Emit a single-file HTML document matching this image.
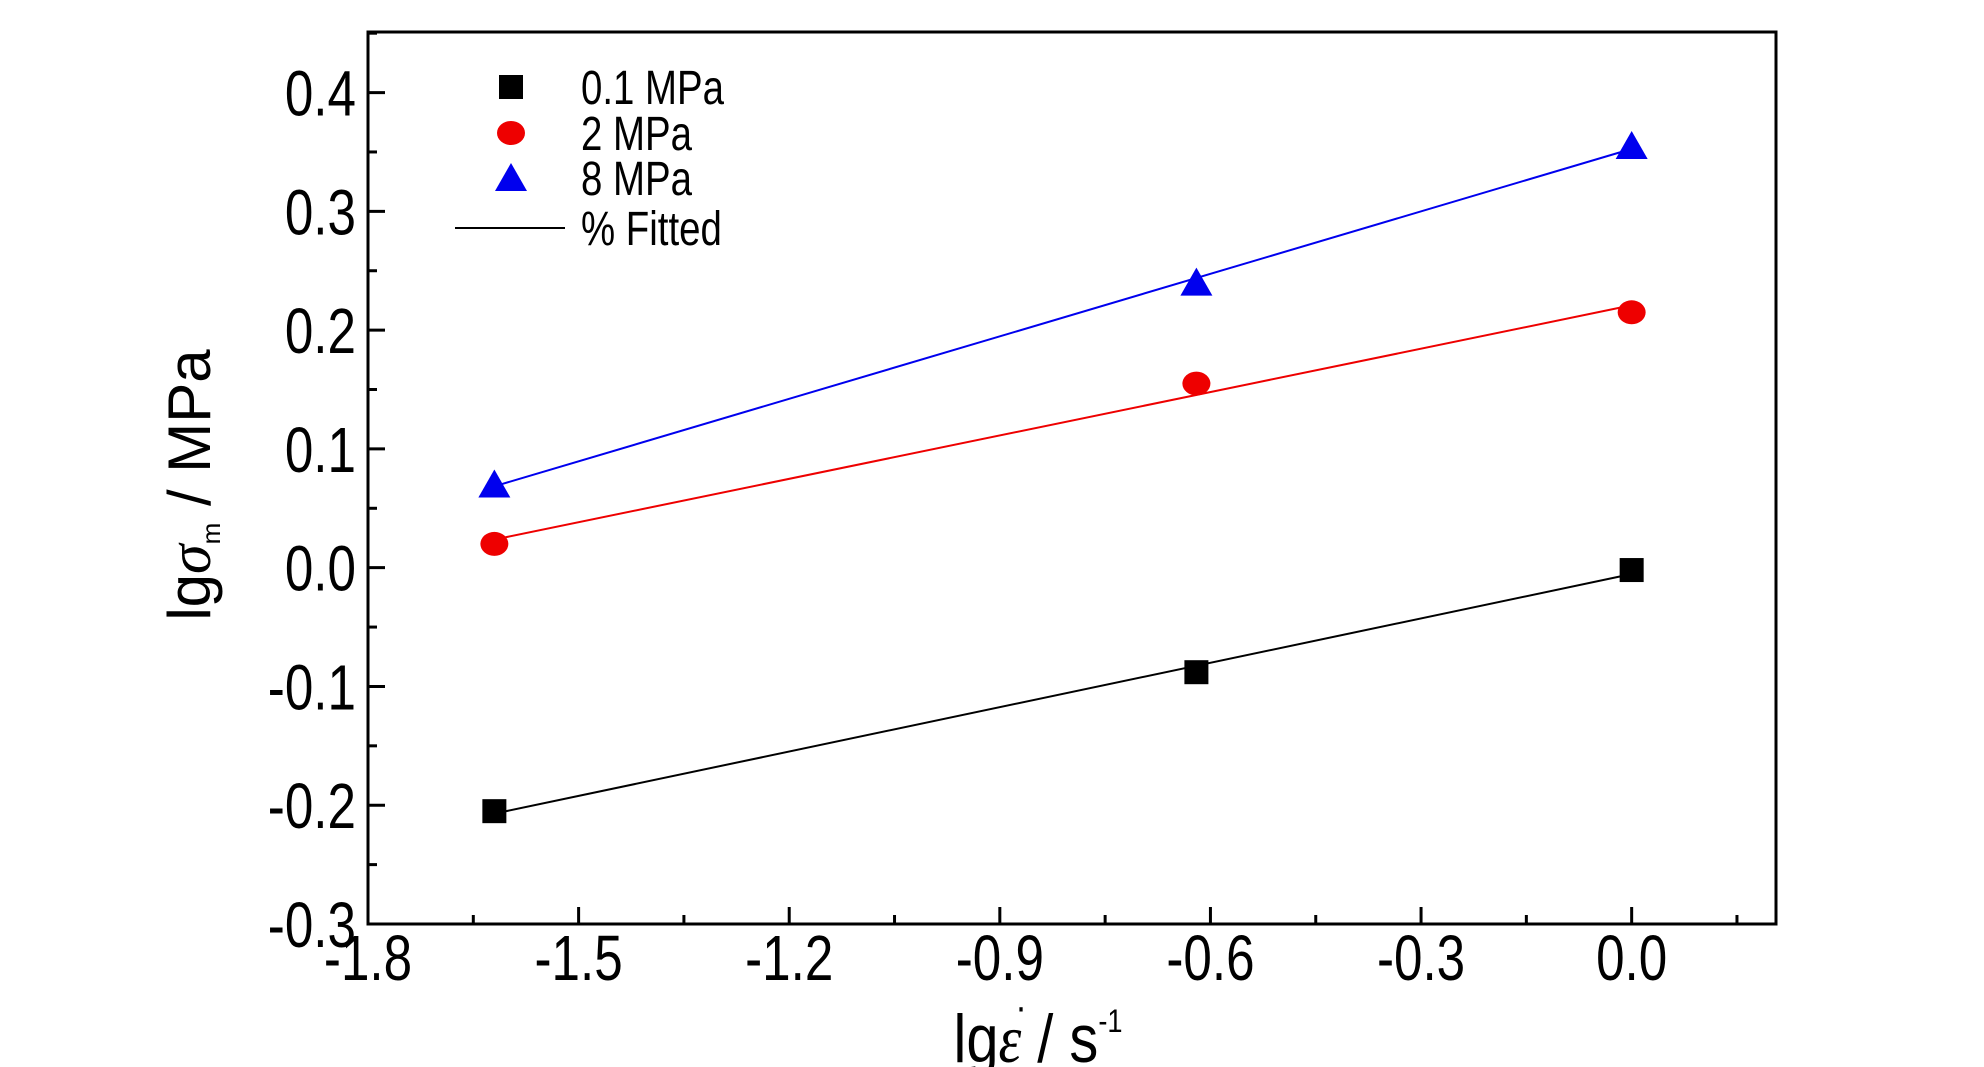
<!DOCTYPE html>
<html><head><meta charset="utf-8"><style>
html,body{margin:0;padding:0;background:#fff;}
svg{display:block;font-family:"Liberation Sans",sans-serif;}
</style></head><body>
<svg id="chart" width="1984" height="1067" viewBox="0 0 1984 1067" xmlns="http://www.w3.org/2000/svg">
<rect x="0" y="0" width="1984" height="1067" fill="#fff"/>
<g id="plot"></g>
<g id="axes"></g>
<g id="legend"></g>
<text transform="translate(210,485) rotate(-90)" text-anchor="middle" font-size="60">lg<tspan font-style="italic" font-family="Liberation Serif">σ</tspan><tspan font-size="26" dy="10">m</tspan><tspan dy="-10"> / MPa</tspan></text>
<g transform="translate(1038,1062) scale(0.85,1)"><text text-anchor="middle" font-size="68">lg<tspan font-style="italic" font-family="Liberation Serif">ε</tspan> / s<tspan font-size="32" dy="-30">-1</tspan></text><text x="-20" y="-42" font-size="40" text-anchor="middle">·</text></g>
</svg>
<script>
const xValues = [-1.62, -0.62, 0.0];
const series01 = [-0.205, -0.088, -0.002];
const series2 = [0.02, 0.155, 0.215];
const series8 = [0.07, 0.24, 0.355];
const xTicks = [-1.8, -1.5, -1.2, -0.9, -0.6, -0.3, 0.0];
const xTickLabels = ["-1.8", "-1.5", "-1.2", "-0.9", "-0.6", "-0.3", "0.0"];
const yTicks = [-0.3, -0.2, -0.1, 0.0, 0.1, 0.2, 0.3, 0.4];
const yTickLabels = ["-0.3", "-0.2", "-0.1", "0.0", "0.1", "0.2", "0.3", "0.4"];
const legendLabels = ["0.1 MPa", "2 MPa", "8 MPa", "% Fitted"];

const NS = "http://www.w3.org/2000/svg";
const L = 368, R = 1776, T = 32, B = 924;
const xMin = -1.8, xMax = 0.2056, yMin = -0.3, yMax = 0.451;
const sx = v => L + (v - xMin) / (xMax - xMin) * (R - L);
const sy = v => B - (v - yMin) / (yMax - yMin) * (B - T);
function mk(tag, attrs, parent) {
  const e = document.createElementNS(NS, tag);
  for (const k in attrs) e.setAttribute(k, attrs[k]);
  parent.appendChild(e);
  return e;
}
const plot = document.getElementById('plot');
const axes = document.getElementById('axes');
const legend = document.getElementById('legend');

const frame = mk('rect', {x: L, y: T, width: R - L, height: B - T, fill: 'none', stroke: '#000', 'stroke-width': 3}, axes);



for (let v = -1.8; v <= 0.2 + 1e-9; v += 0.15) {
  const major = Math.abs(Math.round(v / 0.3) * 0.3 - v) < 1e-6;
  const t = mk('line', {x1: sx(v), x2: sx(v), y1: B, y2: B - (major ? 17 : 9), stroke: '#000', 'stroke-width': 3}, axes);
  
  
}
xTicks.forEach((v, i) => {
  const g = mk('g', {transform: `translate(${sx(v)},980) scale(0.8,1)`}, axes);
  const tx = mk('text', {'text-anchor': 'middle', 'font-size': 64}, g);
  tx.textContent = xTickLabels[i];
  
  
});
for (let v = -0.3; v <= 0.45 + 1e-9; v += 0.05) {
  const major = Math.abs(Math.round(v / 0.1) * 0.1 - v) < 1e-6;
  const t = mk('line', {x1: L, x2: L + (major ? 17 : 9), y1: sy(v), y2: sy(v), stroke: '#000', 'stroke-width': 3}, axes);
  
  
}
yTicks.forEach((v, i) => {
  const g = mk('g', {transform: `translate(356,${sy(v) + 23}) scale(0.8,1)`}, axes);
  const tx = mk('text', {'text-anchor': 'end', 'font-size': 64}, g);
  tx.textContent = yTickLabels[i];
  
  
});

function fit(xs, ys) {
  const n = xs.length;
  const mx = xs.reduce((a, b) => a + b, 0) / n, my = ys.reduce((a, b) => a + b, 0) / n;
  let num = 0, den = 0;
  for (let i = 0; i < n; i++) { num += (xs[i] - mx) * (ys[i] - my); den += (xs[i] - mx) ** 2; }
  const k = num / den;
  return [k, my - k * mx];
}
function marker(type, x, y, color, parent) {
  let m;
  if (type === 'square') m = mk('rect', {x: x - 12, y: y - 12, width: 24, height: 24, fill: color}, parent);
  else if (type === 'circle') m = mk('ellipse', {cx: x, cy: y, rx: 14, ry: 12, fill: color}, parent);
  else m = mk('polygon', {points: `${x},${y - 15} ${x - 16},${y + 13} ${x + 16},${y + 13}`, fill: color}, parent);
  return m;
}
const seriesList = [
  {name: '0.1mpa', ys: series01, color: '#000', type: 'square'},
  {name: '2mpa', ys: series2, color: '#ee0000', type: 'circle'},
  {name: '8mpa', ys: series8, color: '#0000ee', type: 'triangle'}
];
seriesList.forEach(s => {
  const [k, b] = fit(xValues, s.ys);
  const x0 = xValues[0], x1 = xValues[xValues.length - 1];
  const ln = mk('line', {x1: sx(x0), y1: sy(k * x0 + b), x2: sx(x1), y2: sy(k * x1 + b), stroke: s.color, 'stroke-width': 2}, plot);
  
  
  xValues.forEach((xv, i) => {
    const m = marker(s.type, sx(xv), sy(s.ys[i]), s.color, plot);
    
    
  });
});

const rows = [87, 133, 178, 228];
seriesList.forEach((s, i) => {
  const m = marker(s.type, 511, rows[i], s.color, legend);
  
  
});
const ll = mk('line', {x1: 455, x2: 565, y1: rows[3], y2: rows[3], stroke: '#000', 'stroke-width': 2}, legend);


legendLabels.forEach((t, i) => {
  const g = mk('g', {transform: `translate(581,${rows[i] + 17}) scale(0.8,1)`}, legend);
  const tx = mk('text', {'font-size': 48}, g);
  tx.textContent = t;
  
  
});
</script>
</body></html>
